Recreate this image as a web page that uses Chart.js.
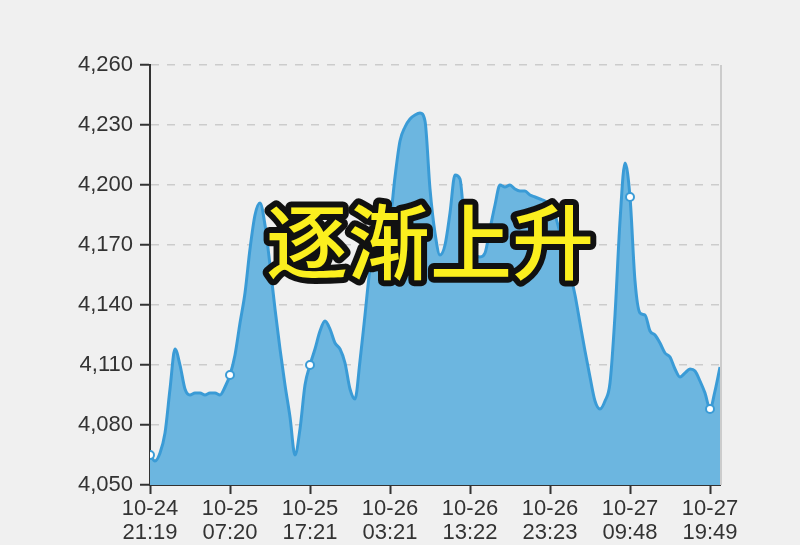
<!DOCTYPE html>
<html>
<head>
<meta charset="utf-8">
<script src="https://cdn.jsdelivr.net/npm/chart.js@4"></script>
<style>
    html, body { margin: 0; padding: 0; background: #f0f0f0; }
    #wrap { width: 800px; height: 545px; }
</style>
</head>
<body>
<div id="wrap"><canvas id="PriceChart" width="800" height="545"></canvas></div>
<script>
// tick labels on the x axis (one every 16 points)
var xTickLabels = [
    ['10-24', '21:19'], ['10-25', '07:20'], ['10-25', '17:21'], ['10-26', '03:21'],
    ['10-26', '13:22'], ['10-26', '23:23'], ['10-27', '09:48'], ['10-27', '19:49']
];
var pointsPerTick = 16;

// price values
var prices = [
    4065, 4062, 4066, 4076, 4098, 4118, 4110, 4098, 4095, 4096,
    4096, 4095, 4096, 4096, 4095, 4099, 4105, 4115, 4131, 4146,
    4168, 4185, 4191, 4180, 4160, 4138, 4118, 4100, 4084, 4065,
    4078, 4100, 4110, 4118, 4127, 4132, 4128, 4121, 4118, 4111,
    4098, 4093, 4112, 4135, 4158, 4168, 4172, 4176, 4182, 4204,
    4222, 4229, 4233, 4235, 4236, 4232, 4198, 4176, 4165, 4170,
    4186, 4205, 4203, 4178, 4168, 4165, 4164, 4166, 4178, 4190,
    4200, 4199, 4200, 4198, 4197, 4197, 4195, 4194, 4193, 4192,
    4190, 4185, 4176, 4166, 4156, 4145, 4131, 4117, 4104, 4092,
    4088, 4092, 4101, 4135, 4182, 4211, 4194, 4152, 4136, 4135,
    4127, 4125, 4121, 4116, 4114, 4108, 4104, 4106, 4108, 4107,
    4102, 4096, 4088, 4097, 4109
];

var yMin = 4050, yMax = 4260, yStep = 30;
var overlayText = '逐渐上升';

var points = prices.map(function (v, i) { return { x: i, y: v }; });
var radii = prices.map(function (v, i) { return i % pointsPerTick === 0 ? 4 : 0; });

var axisFont = { family: "'Liberation Sans', Arial, sans-serif", size: 22, lineHeight: 1.1 };

// right border of the plot area + the big caption
var overlayPlugin = {
    id: 'overlay',
    beforeDatasetsDraw: function (chart) {
        var ctx = chart.ctx, a = chart.chartArea;
        ctx.save();
        ctx.strokeStyle = '#cccccc';
        ctx.lineWidth = 2;
        ctx.beginPath();
        ctx.moveTo(a.right + 1, a.top);
        ctx.lineTo(a.right + 1, a.bottom);
        ctx.stroke();
        ctx.restore();
    },
    afterDraw: function (chart) {
        var ctx = chart.ctx;
        ctx.save();
        ctx.font = "500 82px 'Noto Sans CJK SC', sans-serif";
        ctx.textAlign = 'center';
        ctx.textBaseline = 'middle';
        ctx.lineJoin = 'round';
        ctx.lineWidth = 12;
        ctx.strokeStyle = '#111111';
        ctx.strokeText(overlayText, 430, 242);
        ctx.fillStyle = '#fbef1e';
        ctx.fillText(overlayText, 430, 242);
        ctx.restore();
    }
};

new Chart(document.getElementById('PriceChart'), {
    type: 'line',
    data: {
        datasets: [{
            data: points,
            borderColor: '#3a9bd6',
            borderWidth: 3,
            backgroundColor: '#6cb6e0',
            fill: 'origin',
            cubicInterpolationMode: 'monotone',
            pointRadius: radii,
            pointHoverRadius: radii,
            pointBackgroundColor: '#ffffff',
            pointBorderColor: '#3a9bd6',
            pointBorderWidth: 2
        }]
    },
    options: {
        responsive: false,
        animation: false,
        layout: { padding: { top: 65, right: 80, bottom: 0, left: 0 } },
        plugins: {
            legend: { display: false },
            tooltip: { enabled: false }
        },
        scales: {
            x: {
                type: 'linear',
                min: 0,
                max: prices.length - 1,
                afterFit: function (axis) { axis.height = 60; },
                afterBuildTicks: function (axis) {
                    axis.ticks = xTickLabels.map(function (l, i) { return { value: i * pointsPerTick }; });
                },
                ticks: {
                    autoSkip: false,
                    maxRotation: 0,
                    padding: 3,
                    color: '#333333',
                    font: axisFont,
                    callback: function (value) { return xTickLabels[value / pointsPerTick]; }
                },
                grid: { drawOnChartArea: false, tickLength: 9, tickColor: '#333333', tickWidth: 2 },
                border: { color: '#333333', width: 2 }
            },
            y: {
                min: yMin,
                max: yMax,
                afterFit: function (axis) { axis.width = 150; },
                ticks: {
                    stepSize: yStep,
                    padding: 7,
                    color: '#333333',
                    font: axisFont,
                    callback: function (value) { return value.toLocaleString('en-US'); }
                },
                grid: {
                    color: '#cccccc',
                    lineWidth: 1.5,
                    tickLength: 10,
                    tickColor: '#333333',
                    tickWidth: 2,
                    tickBorderDash: []
                },
                border: { color: '#333333', width: 2, dash: [8, 8] }
            }
        }
    },
    plugins: [overlayPlugin]
});
</script>
</body>
</html>
